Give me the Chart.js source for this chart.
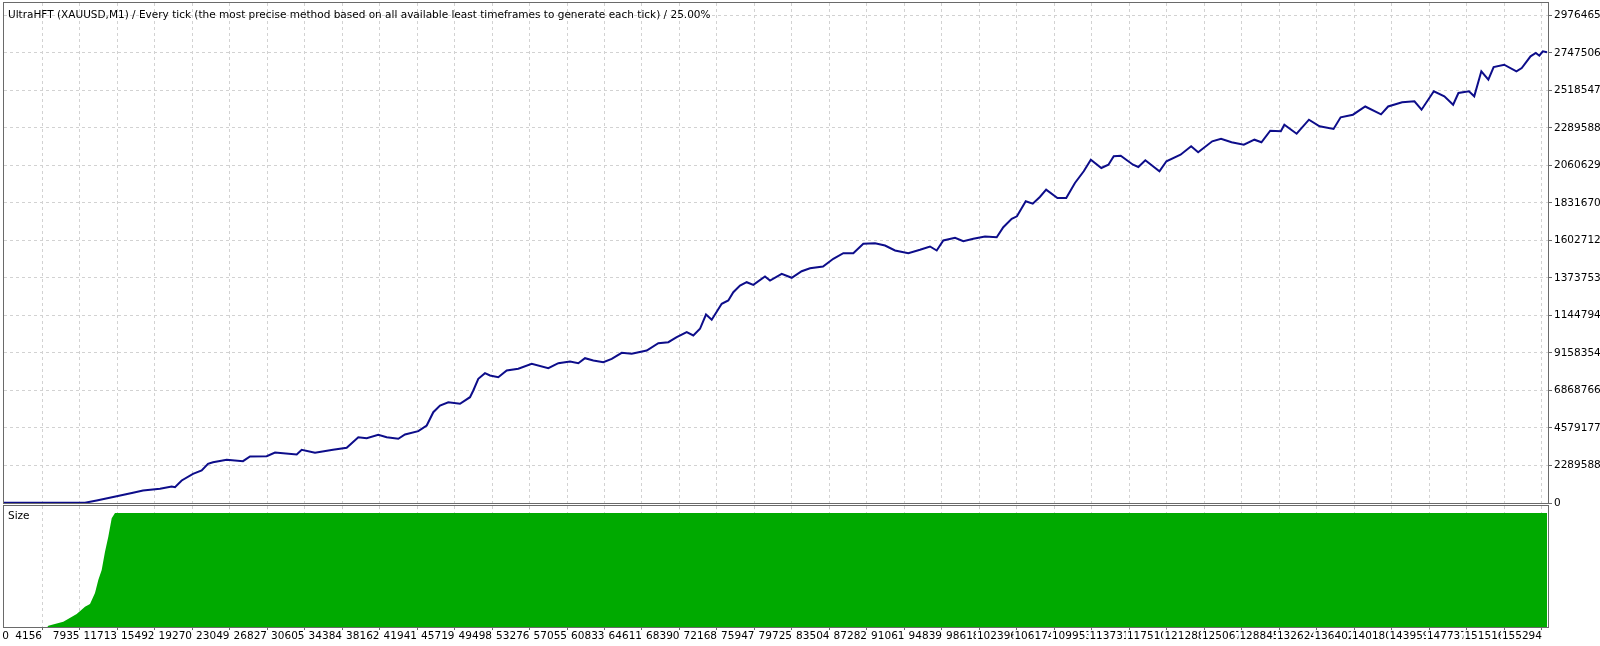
<!DOCTYPE html>
<html>
<head>
<meta charset="utf-8">
<script src="https://cdn.jsdelivr.net/npm/chart.js@4.4.1/dist/chart.umd.min.js"></script>
<style>
  body { margin: 0; background: #fff; width: 1600px; height: 646px; overflow: hidden; position: relative; }
  canvas { position: absolute; left: 0; }
  #equity { top: 0; }
  #size { top: 500px; }
  .lbl { position: absolute; font: 10.5px "DejaVu Sans"; line-height: 12px; color: #000; white-space: nowrap; }
</style>
</head>
<body>
<canvas id="equity" width="1600" height="512" style="width:1600px;height:512px"></canvas>
<canvas id="size" width="1600" height="146" style="width:1600px;height:146px"></canvas>
<div class="lbl" style="left:8px;top:8px">UltraHFT (XAUUSD,M1) / Every tick (the most precise method based on all available least timeframes to generate each tick) / 25.00%</div>
<div class="lbl" style="left:8px;top:509px">Size</div>
<script>
// trade number on x, balance on y
var tradeNo = [327, 8489, 9667, 11683, 13325, 14333, 16046, 17225, 17557, 18232, 19371, 20247, 20882, 21386, 22766, 24409, 25114, 26797, 27633, 29820,
  30323, 31663, 33477, 34857, 36026, 36873, 38041, 38888, 40057, 40732, 42072, 42918, 43583, 44258, 45094, 46273, 47281, 47613, 48117, 48792,
  49296, 50132, 50979, 52148, 53499, 55172, 56180, 57359, 58195, 58870, 59706, 60714, 61560, 62568, 63575, 65087, 66256, 67263, 68110, 69117,
  69782, 70456, 71061, 71635, 72643, 73308, 73812, 74487, 75162, 75827, 77006, 77509, 78688, 79696, 80703, 81540, 82851, 83888, 84896, 85903,
  86911, 88090, 89098, 90106, 91446, 92625, 93632, 94307, 94972, 96151, 96987, 97995, 99173, 100352, 101017, 101863, 102390, 103277, 103983, 104698,
  105333, 106471, 107358, 108234, 109121, 109836, 110894, 111610, 112144, 112849, 114088, 114622, 115328, 116748, 117454, 118875, 119943, 120649, 122069, 122956,
  124014, 125253, 126321, 127027, 127913, 128981, 129334, 130573, 131813, 132881, 134291, 135007, 136246, 137485, 139077, 139793, 141203, 142443, 143158, 144397,
  145455, 146342, 146876, 147934, 148468, 149183, 149889, 150423, 151481, 152720, 153254, 154141, 154675, 155027, 155380, 155800];
var equity = [10000, 15000, 153000, 415000, 623000, 763000, 867000, 1007000, 965000, 1374000, 1783000, 1984000, 2393000, 2491000, 2638000, 2552000, 2839000, 2857000, 3083000, 2961000,
  3248000, 3065000, 3248000, 3370000, 4017000, 3956000, 4164000, 4017000, 3920000, 4182000, 4384000, 4732000, 5544000, 5953000, 6154000, 6057000, 6460000, 6869000, 7583000, 7925000,
  7785000, 7681000, 8090000, 8194000, 8499000, 8230000, 8536000, 8639000, 8536000, 8841000, 8700000, 8597000, 8804000, 9171000, 9110000, 9311000, 9757000, 9818000, 10123000, 10428000,
  10227000, 10636000, 11509000, 11186000, 12162000, 12364000, 12871000, 13280000, 13481000, 13322000, 13829000, 13585000, 13994000, 13750000, 14153000, 14336000, 14440000, 14910000, 15252000, 15252000,
  15826000, 15862000, 15722000, 15417000, 15252000, 15459000, 15661000, 15417000, 16027000, 16192000, 15984000, 16131000, 16271000, 16229000, 16839000, 17352000, 17505000, 18421000, 18274000, 18683000,
  19129000, 18622000, 18622000, 19538000, 20252000, 20961000, 20454000, 20655000, 21168000, 21205000, 20655000, 20515000, 20924000, 20252000, 20863000, 21266000, 21779000, 21412000, 22084000, 22243000,
  22023000, 21876000, 22182000, 22023000, 22731000, 22694000, 23097000, 22548000, 23403000, 23000000, 22835000, 23549000, 23708000, 24209000, 23732000, 24209000, 24465000, 24526000, 24013000, 25137000,
  24831000, 24319000, 25033000, 25137000, 24831000, 26358000, 25845000, 26620000, 26761000, 26358000, 26559000, 27274000, 27475000, 27310000, 27579000, 27518000];

// lot size per trade (relative)
var sizeTrade = [327, 4700, 4791, 6302, 7652, 8489, 8992, 9496, 9829, 10171, 10504, 10836, 11179, 11511, 155800];
var sizeLots = [0, 0, 1.1, 4.6, 11.4, 17.8, 20.2, 29.8, 41.2, 50, 66, 79.2, 95.3, 100, 100];

var xTicks = [831, 4156, 7935, 11713, 15492, 19270, 23049, 26827, 30605, 34384, 38162, 41941, 45719, 49498, 53276, 57055, 60833, 64611, 68390, 72168, 75947,
  79725, 83504, 87282, 91061, 94839, 98618, 102396, 106174, 109953, 113731, 117510, 121288, 125067, 128845, 132624, 136402, 140180, 143959, 147737, 151516, 155294];
var xLabels = ["0", "4156", "7935", "11713", "15492", "19270", "23049", "26827", "30605", "34384", "38162", "41941", "45719", "49498", "53276", "57055", "60833", "64611", "68390", "72168", "75947",
  "79725", "83504", "87282", "91061", "94839", "98618", "102396", "106174", "109953", "113731", "117510", "121288", "125067", "128845", "132624", "136402", "140180", "143959", "147737", "151516", "155294"];
var yTicks = [0, 2289588.5, 4579177, 6868765.5, 9158354, 11447942.5, 13737531, 16027119.5, 18316708, 20606296.5, 22895885, 25185473.5, 27475062, 29764650.5];
var yLabels = ["0", "2289588", "4579177", "6868766", "9158354", "1144794", "1373753", "1602712", "1831670", "2060629", "2289588", "2518547", "2747506", "2976465"];

var xMin = 327, xMax = 155900;
var gridColor = "#d2d2d2";
var noLine = "rgba(0,0,0,0)";

Chart.defaults.font.family = "DejaVu Sans";
Chart.defaults.font.size = 10.5;
Chart.defaults.color = "#000";

const frame = {
  id: "frame",
  afterDraw(chart) {
    const { ctx, chartArea: a } = chart;
    ctx.save();
    ctx.strokeStyle = "#6a6a6a";
    ctx.lineWidth = 1;
    ctx.strokeRect(a.left - 0.5, a.top - 0.5, a.right - a.left + 1, a.bottom - a.top + 1);
    ctx.restore();
  }
};

function xAxis(showLabels) {
  return {
    type: "linear",
    min: xMin,
    max: xMax,
    afterBuildTicks: (s) => { s.ticks = xTicks.map((v) => ({ value: v })); },
    afterFit: (s) => { s.paddingLeft = 0; s.paddingRight = 0; s.height = showLabels ? 19 : 0; },
    ticks: {
      display: showLabels,
      autoSkip: false,
      maxRotation: 0,
      align: "end",
      padding: 0,
      showLabelBackdrop: true,
      backdropColor: "#fff",
      backdropPadding: { left: 1, right: 0, top: 0, bottom: 0 },
      callback: (v, i) => xLabels[i]
    },
    grid: {
      color: (c) => (c.index === 0 ? noLine : gridColor),
      drawTicks: showLabels,
      tickLength: 3,
      tickColor: (c) => (c.index === 0 ? noLine : "#6a6a6a"),
      tickBorderDash: []
    },
    border: { display: false, dash: [3, 3] }
  };
}

new Chart(document.getElementById("equity"), {
  type: "line",
  data: {
    datasets: [{
      data: tradeNo.map((t, i) => ({ x: t, y: equity[i] })),
      borderColor: "#0d0d8a",
      borderWidth: 2,
      pointRadius: 0,
      tension: 0,
      fill: false
    }]
  },
  options: {
    responsive: false,
    animation: false,
    devicePixelRatio: 1,
    layout: { padding: { left: 4, top: 3, right: 0, bottom: 9 } },
    plugins: { legend: { display: false }, tooltip: { enabled: false } },
    scales: {
      x: xAxis(false),
      y: {
        position: "right",
        min: 0,
        max: 30527800,
        afterBuildTicks: (s) => { s.ticks = yTicks.map((v) => ({ value: v })); },
        afterFit: (s) => { s.width = 52; s.paddingTop = 0; s.paddingBottom = 0; },
        ticks: { padding: 2, callback: (v, i) => yLabels[i] },
        grid: {
          color: (c) => (c.index === 0 ? noLine : gridColor),
          tickLength: 4,
          tickColor: "#6a6a6a",
          tickBorderDash: []
        },
        border: { display: false, dash: [3, 3] }
      }
    }
  },
  plugins: [frame]
});

new Chart(document.getElementById("size"), {
  type: "line",
  data: {
    datasets: [{
      data: sizeTrade.map((t, i) => ({ x: t, y: sizeLots[i] })),
      borderWidth: 0,
      borderColor: "#00aa00",
      backgroundColor: "#00aa00",
      pointRadius: 0,
      tension: 0,
      fill: "origin"
    }]
  },
  options: {
    responsive: false,
    animation: false,
    devicePixelRatio: 1,
    layout: { padding: { left: 4, top: 6, right: 52, bottom: 0 } },
    plugins: { legend: { display: false }, tooltip: { enabled: false } },
    scales: {
      x: xAxis(true),
      y: { display: false, min: 0, max: 106.1 }
    }
  },
  plugins: [frame]
});
</script>
</body>
</html>
